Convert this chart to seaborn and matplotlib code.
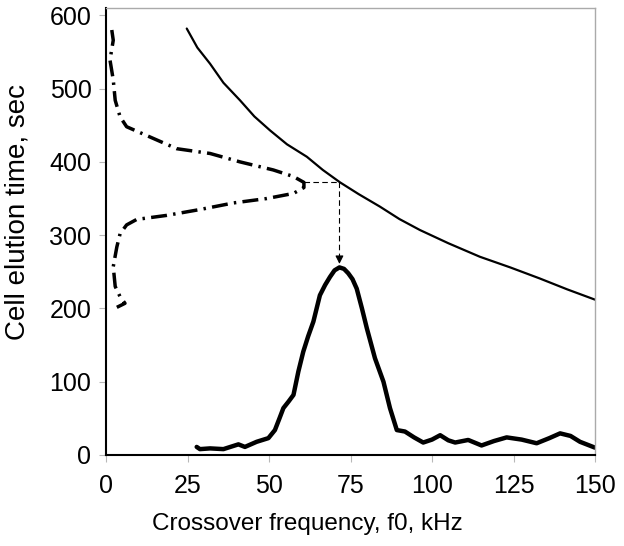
import numpy as np
import pandas as pd
import matplotlib
matplotlib.use("Agg")
import matplotlib.pyplot as plt
import seaborn as sns

#%% data
# elution time vs crossover frequency (solid thin line)
calib_f = [24.75, 28.0, 31.9, 36.0, 41.1, 45.5, 50.3, 55.5, 61.6, 66.5, 71.8,
           77.5, 84.0, 90.0, 96.3, 105.0, 114.7, 124.0, 133.0, 141.5, 150.0]
calib_t = [582, 556, 534, 508, 484, 462, 443, 424, 407, 389, 372,
           356, 339, 322, 307, 289, 270.5, 256, 241, 226, 212]

# frequency spectrum (thick solid line)
spec_f = [27.8, 28.8, 31.9, 36.0, 40.6, 42.6, 46.2, 49.8, 51.8, 53.2, 54.4,
          56.0, 57.5, 59.0, 60.5, 62.0, 63.6, 65.6, 67.2, 68.7, 70.1, 71.6,
          73.0, 74.3, 75.6, 76.9, 78.5, 80.0, 82.5, 85.1, 87.1, 89.2, 91.7,
          94.5, 97.3, 100.0, 102.5, 105.0, 107.1, 111.1, 115.2, 119.0, 122.9,
          127.5, 132.1, 136.0, 139.3, 142.5, 145.4, 150.0]
spec_t = [11, 8, 9, 8, 14.5, 11, 18, 23, 34, 50, 64,
          73, 82, 114, 141, 162, 182, 218, 232, 243, 252, 256,
          254, 248, 240, 227, 200, 173, 132, 100, 64, 34, 32,
          24, 17, 21, 27, 20, 17, 20.5, 13, 19, 24,
          21, 16, 23, 29.5, 26, 18, 10]

# elution profile (dash-dot line, drawn sideways)
elut_f = [1.75, 2.2, 1.2, 2.2, 2.8, 4.3, 6.3, 14.5, 21.7, 31.9, 41.1, 51.3,
          57.5, 60.7, 60.7, 57.5, 49.3, 39.1, 28.8, 18.6, 9.4, 6.3, 4.3, 3.3,
          2.2, 2.8, 4.3, 5.8, 3.3]
elut_t = [580, 566, 539, 512, 484, 461.5, 448, 432, 418, 411.5, 400, 389,
          380, 372, 365, 357, 350, 344, 335, 327, 321.5, 314, 302, 284,
          257, 230, 216, 207, 201.5]

# guide from elution peak to calibration curve and down to spectrum peak
guide_f0 = 60.7
guide_f = 71.6
guide_t = 372
peak_t = 257

calib = pd.DataFrame({"f": calib_f, "t": calib_t})
spec = pd.DataFrame({"f": spec_f, "t": spec_t})
elut = pd.DataFrame({"f": elut_f, "t": elut_t})

#%% plot
sns.set_style("white")
plt.rcParams["font.family"] = ["Liberation Sans", "DejaVu Sans"]
plt.rcParams["text.color"] = "black"
plt.rcParams["axes.labelcolor"] = "black"

fig = plt.figure(figsize=(6.24, 5.46), dpi=100)
ax = fig.add_axes([0.17, 0.1667, 0.7835, 0.8186])

sns.lineplot(data=calib, x="f", y="t", ax=ax, color="black", lw=1.6,
             sort=False, estimator=None)
sns.lineplot(data=spec, x="f", y="t", ax=ax, color="black", lw=3.2,
             sort=False, estimator=None)
sns.lineplot(data=elut, x="f", y="t", ax=ax, color="black", lw=2.5,
             sort=False, estimator=None)
ax.lines[-1].set_linestyle((0, (4.6, 1.8, 0.7, 1.8)))
for ln in ax.lines:
    ln.set_solid_joinstyle("round")
    ln.set_solid_capstyle("round")
    ln.set_dash_capstyle("butt")

ax.plot([guide_f0, guide_f], [guide_t, guide_t], color="black", lw=0.8,
        ls=(0, (5, 3)))
ax.plot([guide_f, guide_f], [guide_t, peak_t + 12], color="black", lw=0.8,
        ls=(0, (5, 3)))
ax.annotate("", xy=(guide_f, peak_t), xytext=(guide_f, peak_t + 14),
            arrowprops=dict(arrowstyle="-|>", color="black", lw=0.8,
                            mutation_scale=12))

ax.set_xlim(0, 150)
ax.set_ylim(0, 610)
ax.set_xticks([0, 25, 50, 75, 100, 125, 150])
ax.set_yticks([0, 100, 200, 300, 400, 500, 600])
ax.tick_params(axis="both", labelsize=18, length=5, color="#b8b8b8",
               labelcolor="black", direction="out", bottom=True, left=True)
ax.tick_params(axis="x", pad=9)
ax.tick_params(axis="y", pad=5.5)
ax.set_xlabel("Crossover frequency, f0, kHz", fontsize=17.5)
ax.set_ylabel("Cell elution time, sec", fontsize=20)
ax.xaxis.set_label_coords(0.412, -0.13)
ax.yaxis.set_label_coords(-0.155, 0.544)

for side in ["left", "bottom"]:
    ax.spines[side].set_color("black")
    ax.spines[side].set_linewidth(1.5)
for side in ["top", "right"]:
    ax.spines[side].set_color("#aaaaaa")
    ax.spines[side].set_linewidth(1.0)

fig.savefig("out.png", dpi=100)
